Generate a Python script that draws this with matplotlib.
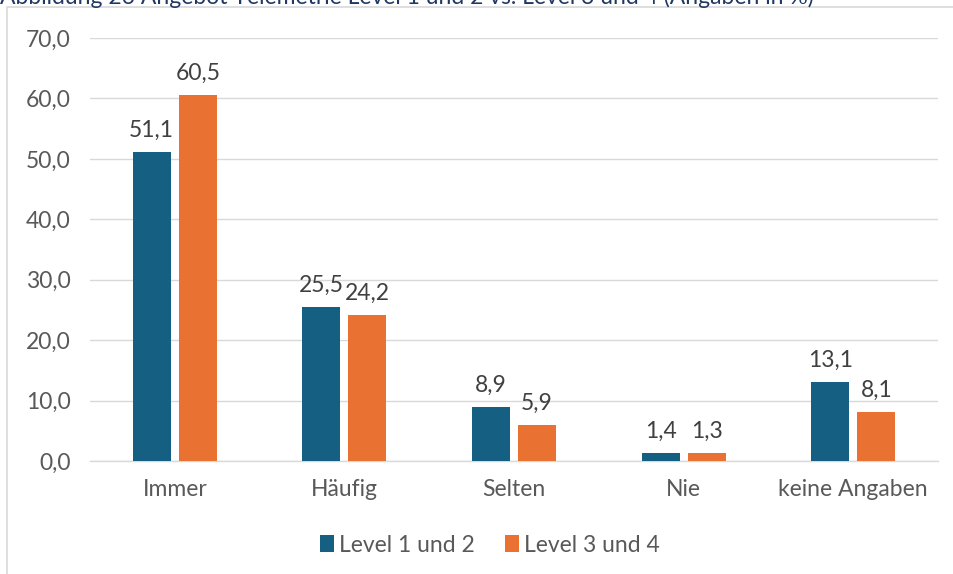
import matplotlib
matplotlib.use("Agg")
import matplotlib.pyplot as plt
from matplotlib.patches import Rectangle
import numpy as np

categories = ["Immer", "Häufig", "Selten", "Nie", "keine Angaben"]
series_names = ["Level 1 und 2", "Level 3 und 4"]
level12 = [51.1, 25.5, 8.9, 1.4, 13.1]
level34 = [60.5, 24.2, 5.9, 1.3, 8.1]
yticks = [0, 10, 20, 30, 40, 50, 60, 70]
title = "Abbildung 26 Angebot Telemetrie Level 1 und 2 vs. Level 3 und 4 (Angaben in %)"

colors = ["#156082", "#E97132"]
text_color = "#595959"
plt.rcParams['font.family'] = ['Lato', 'DejaVu Sans']
fs = 16.5

fig = plt.figure(figsize=(9.54, 5.74), dpi=100)
ax = fig.add_axes([90/954, 1-461/574, 848/954, 423/574])

x = np.arange(len(categories))
w = 0.224
off = 0.136
for vals, c, o, name in zip([level12, level34], colors, [-off, off], series_names):
    bars = ax.bar(x + o, vals, width=w, color=c, label=name, zorder=3)
    for b, v in zip(bars, vals):
        ax.annotate(f"{v:.1f}".replace(".", ","), (b.get_x() + b.get_width()/2, v),
                    xytext=(0, 8), textcoords="offset points", ha="center", va="bottom",
                    fontsize=fs, color="#404040")

ax.set_xlim(-0.5, len(categories) - 0.5)
ax.set_ylim(0, 70)
ax.set_yticks(yticks)
ax.set_yticklabels([f"{t:.1f}".replace(".", ",") for t in yticks], fontsize=fs, color=text_color)
ax.set_xticks(x)
ax.set_xticklabels(categories, fontsize=fs, color=text_color)
ax.tick_params(axis="x", length=0, pad=13)
ax.tick_params(axis="y", length=0, pad=14)
ax.grid(axis="y", color="#d9d9d9", linewidth=1, zorder=0)
for s in ["top", "right", "left"]:
    ax.spines[s].set_visible(False)
ax.spines["bottom"].set_color("#d9d9d9")
ax.spines["bottom"].set_linewidth(1)

leg = fig.legend(loc="center", bbox_to_anchor=(490/954, 1-545/574), ncol=2, frameon=False,
                 fontsize=fs, handlelength=0.6, handleheight=0.7, handletextpad=0.25,
                 columnspacing=1.3)
for t in leg.get_texts():
    t.set_color(text_color)

fig.patches.append(Rectangle((7/954, -0.1), 1.2, 1 - 7/574 + 0.1, transform=fig.transFigure,
                             fill=False, edgecolor="#d9d9d9", linewidth=1.2))
fig.text(0, 1 + 3/574, title, ha="left", va="center", fontsize=16.5, color="#1F3864")

fig.savefig("out.png", dpi=100)
